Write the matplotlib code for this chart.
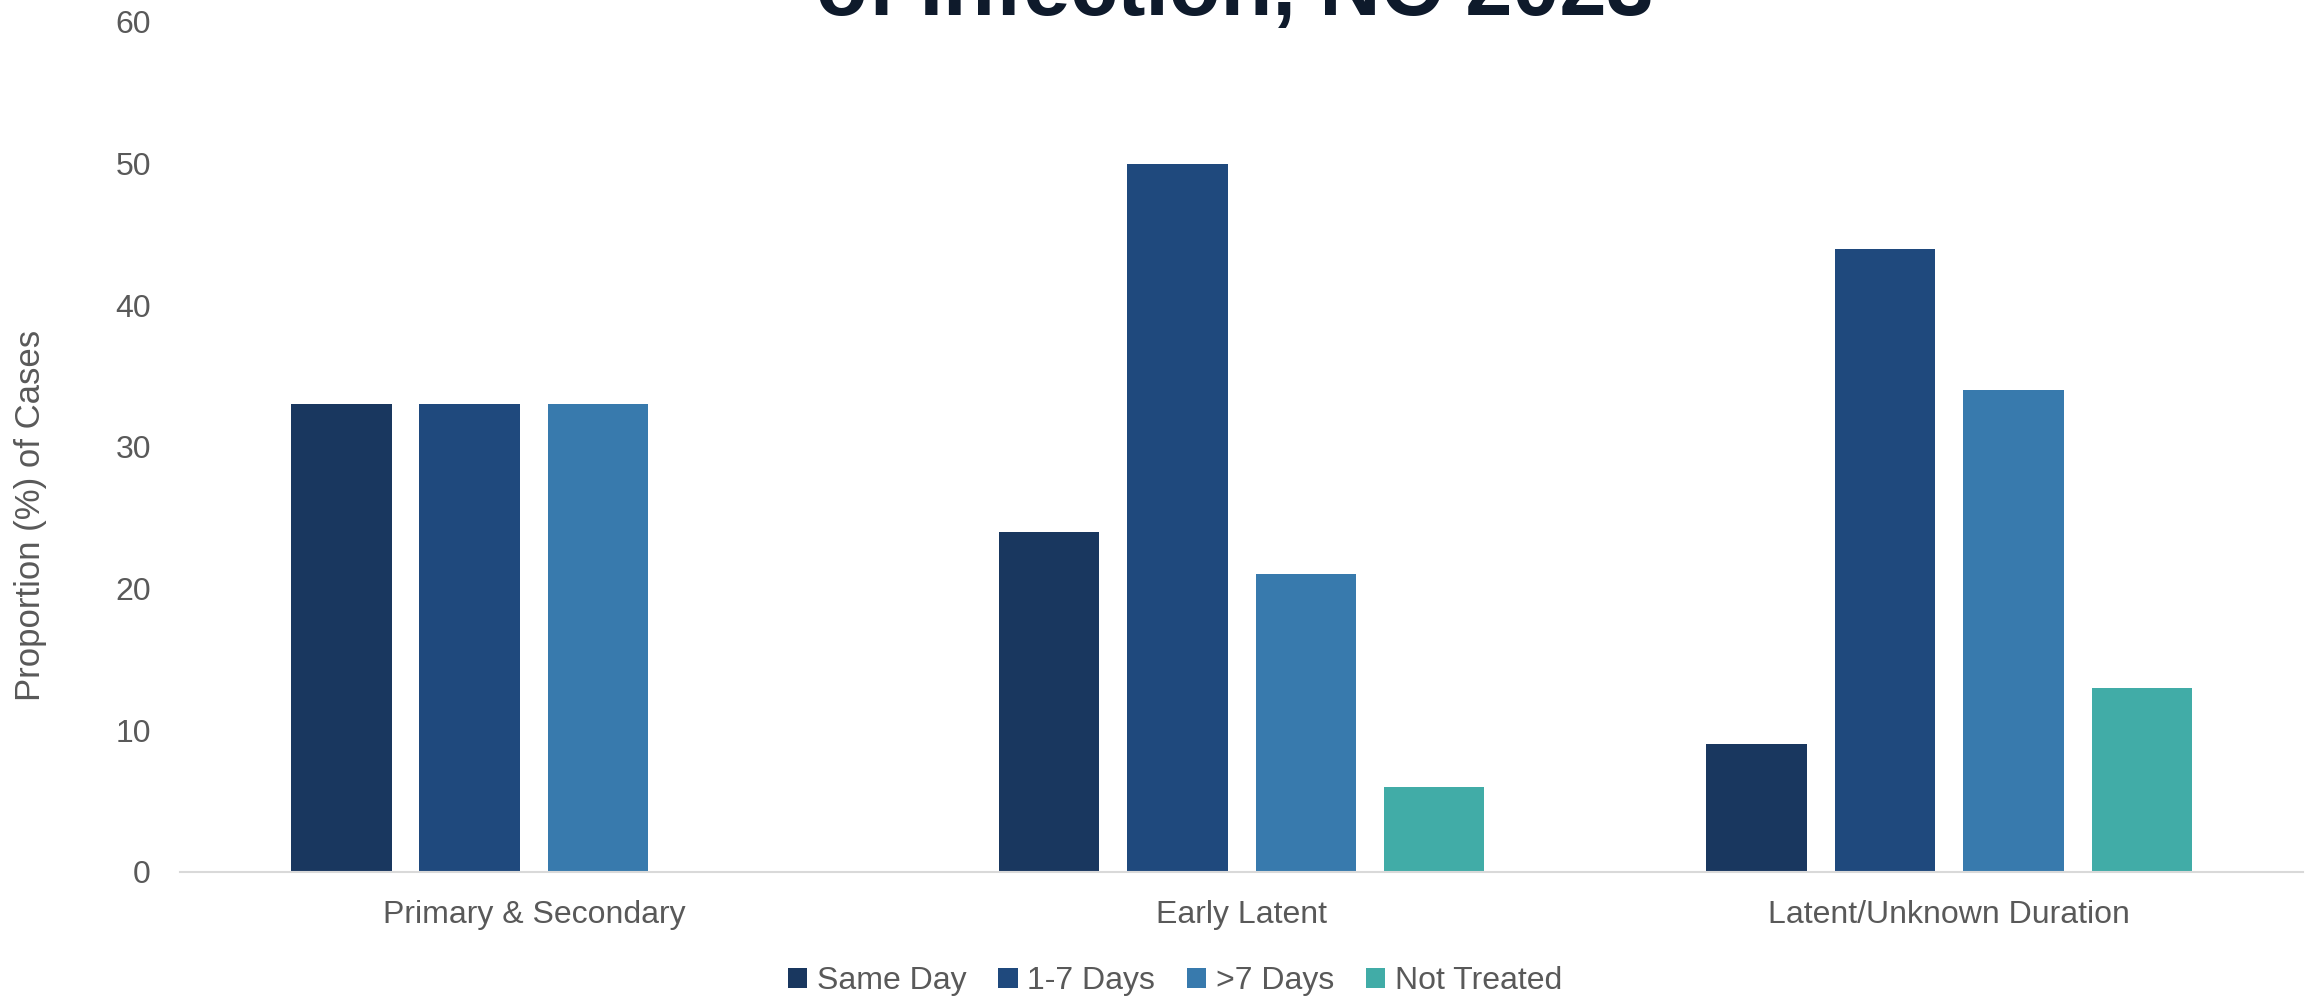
#!/usr/bin/env python3
"""Grouped bar chart: time to treatment by stage of infection."""

import matplotlib
matplotlib.use("Agg")
import matplotlib.pyplot as plt
import numpy as np

stages = ["Primary & Secondary", "Early Latent", "Latent/Unknown Duration"]
timing = ["Same Day", "1-7 Days", ">7 Days", "Not Treated"]
same_day = [33, 24, 9]
days_1_7 = [33, 50, 44]
days_over_7 = [33, 21, 34]
not_treated = [0, 6, 13]
yticks = [0, 10, 20, 30, 40, 50, 60]

colors = ["#19375F", "#1F497D", "#387AAD", "#41ACA7"]
grey = "#595959"

plt.rcParams["font.family"] = ["Liberation Sans", "DejaVu Sans"]


def main() -> None:
    fig = plt.figure(figsize=(23.15, 9.96), dpi=100)
    ax = fig.add_axes([0.0778, 0.1245, 0.917, 0.8535])

    series = [same_day, days_1_7, days_over_7, not_treated]
    x = np.arange(len(stages))
    step = 0.1815
    width = 0.142
    for i, (vals, name, col) in enumerate(zip(series, timing, colors)):
        offs = (i - 1.5) * step
        ax.bar(x + offs, vals, width=width, color=col, label=name, zorder=2)

    ax.set_xlim(-0.5, len(stages) - 0.5)
    ax.set_ylim(0, 60)
    ax.set_yticks(yticks)
    ax.set_xticks(x)
    ax.set_xticklabels(stages)
    ax.tick_params(axis="both", length=0, colors=grey)
    ax.tick_params(axis="y", pad=21, labelsize=23)
    ax.tick_params(axis="x", pad=20, labelsize=23)

    for side in ("top", "right", "left"):
        ax.spines[side].set_visible(False)
    ax.spines["bottom"].set_color("#D9D9D9")
    ax.spines["bottom"].set_linewidth(1.5)

    fig.text(0.013, 0.482, "Proportion (%) of Cases", rotation=90, ha="center",
             va="center", fontsize=25, color=grey)

    fig.text(0.5335, 0.985, "of Infection, NC 2023", ha="center", va="baseline",
             fontsize=61, fontweight="bold", color="#0E1A2B")

    fig.legend(loc="center", bbox_to_anchor=(0.5076, 0.015), ncol=4, frameon=False,
               handlelength=0.6, handleheight=0.6, handletextpad=0.3,
               columnspacing=1.0, prop={"size": 23}, labelcolor=grey)

    fig.savefig("out.png", dpi=100)
    plt.close(fig)


if __name__ == "__main__":
    main()
